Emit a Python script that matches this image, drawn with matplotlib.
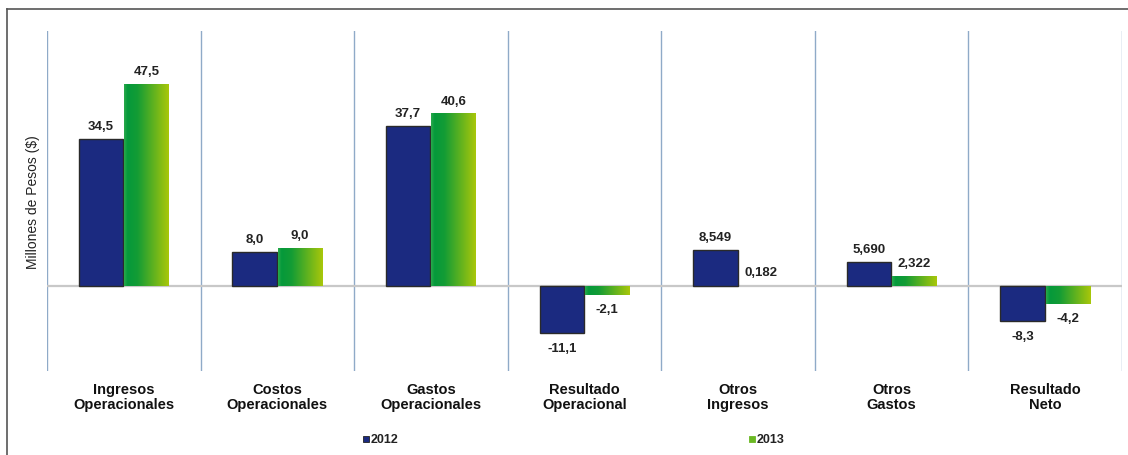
import numpy as np
import matplotlib
matplotlib.use("Agg")
from matplotlib import pyplot as plt
from matplotlib.colors import LinearSegmentedColormap
from matplotlib.patches import Rectangle
from matplotlib.lines import Line2D

# Data
categories = ["Ingresos\nOperacionales", "Costos\nOperacionales", "Gastos\nOperacionales",
              "Resultado\nOperacional", "Otros\nIngresos", "Otros\nGastos", "Resultado\nNeto"]
values_2012 = [34.5, 8.0, 37.7, -11.1, 8.549, 5.690, -8.3]
values_2013 = [47.5, 9.0, 40.6, -2.1, 0.182, 2.322, -4.2]
labels_2012 = ["34,5", "8,0", "37,7", "-11,1", "8,549", "5,690", "-8,3"]
labels_2013 = ["47,5", "9,0", "40,6", "-2,1", "0,182", "2,322", "-4,2"]
series_names = ["2012", "2013"]

blue = "#1b2a80"
green_cmap = LinearSegmentedColormap.from_list(
    "grn", [(0.0, "#2aaa4c"), (0.08, "#05993b"), (0.3, "#139c35"), (1.0, "#a9c70a")])

plt.rcParams['font.family'] = ['Liberation Sans', 'DejaVu Sans']

fig = plt.figure(figsize=(11.28, 4.56), dpi=100)
ax = fig.add_axes([47 / 1128, 1 - 372 / 456, 1075 / 1128, 340 / 456])

x = np.arange(len(categories))
w = 0.29
off = 0.148

bars12 = ax.bar(x - off, values_2012, w, color=blue, edgecolor="#2a2a2a", linewidth=1.0, zorder=3)
bars13 = ax.bar(x + off, values_2013, w, color="none", edgecolor="none", zorder=3)

# horizontal gradient for the 2013 bars
grad = np.linspace(0, 1, 256).reshape(1, -1)
for b in bars13:
    x0, y0 = b.get_x(), b.get_y()
    bw, bh = b.get_width(), b.get_height()
    if abs(bh) < 0.5:
        continue
    im = ax.imshow(grad, cmap=green_cmap, aspect="auto",
                   extent=[x0, x0 + bw, y0, y0 + bh], zorder=3)
    im.set_clip_path(b)

ax.set_xlim(-0.5, len(categories) - 0.5)
ax.set_ylim(-20, 60)

# zero line and category separators
ax.axhline(0, color="#c8c8c8", linewidth=1.6, zorder=2)
for s in np.arange(-0.5, len(categories), 1.0):
    ax.axvline(s, color="#8faac8", linewidth=1.0, zorder=1)

# value labels
for bars, labels in [(bars12, labels_2012), (bars13, labels_2013)]:
    for b, lab in zip(bars, labels):
        h = b.get_height()
        cx = b.get_x() + b.get_width() / 2
        if h >= 0:
            ax.annotate(lab, (cx, h), xytext=(0, 5), textcoords="offset points",
                        ha="center", va="bottom", fontsize=9.5, fontweight="bold", color="#222222")
        else:
            ax.annotate(lab, (cx, h), xytext=(0, -6), textcoords="offset points",
                        ha="center", va="top", fontsize=9.5, fontweight="bold", color="#222222")

ax.set_xticks(x)
ax.set_xticklabels(categories, fontsize=10.5, fontweight="bold", color="#111111", linespacing=1.1)
ax.tick_params(axis="x", length=0, pad=8)
ax.set_yticks([])
for sp in ax.spines.values():
    sp.set_visible(False)

ax.set_ylabel("Millones de Pesos ($)", fontsize=10, color="#222222", labelpad=5)

# outer frame (top and left edges)
fig.add_artist(Line2D([7 / 1128, 1.0], [1 - 10 / 456, 1 - 10 / 456], color="#555555", linewidth=1.2))
fig.add_artist(Line2D([7 / 1128, 7 / 1128], [0.0, 1 - 10 / 456], color="#555555", linewidth=1.2))

# legend
leg_items = [(363, series_names[0], blue), (749, series_names[1], "#6ab823")]
for px, name, col in leg_items:
    fig.add_artist(Rectangle((px / 1128, 1 - 443 / 456), 6 / 1128, 6 / 456,
                             facecolor=col, edgecolor="#222222" if col == blue else col, linewidth=0.6))
    fig.text((px + 8) / 1128, 1 - 440 / 456, name, fontsize=9, fontweight="bold",
             va="center", ha="left", color="#222222")

fig.savefig("out.png", dpi=100, facecolor="white")
